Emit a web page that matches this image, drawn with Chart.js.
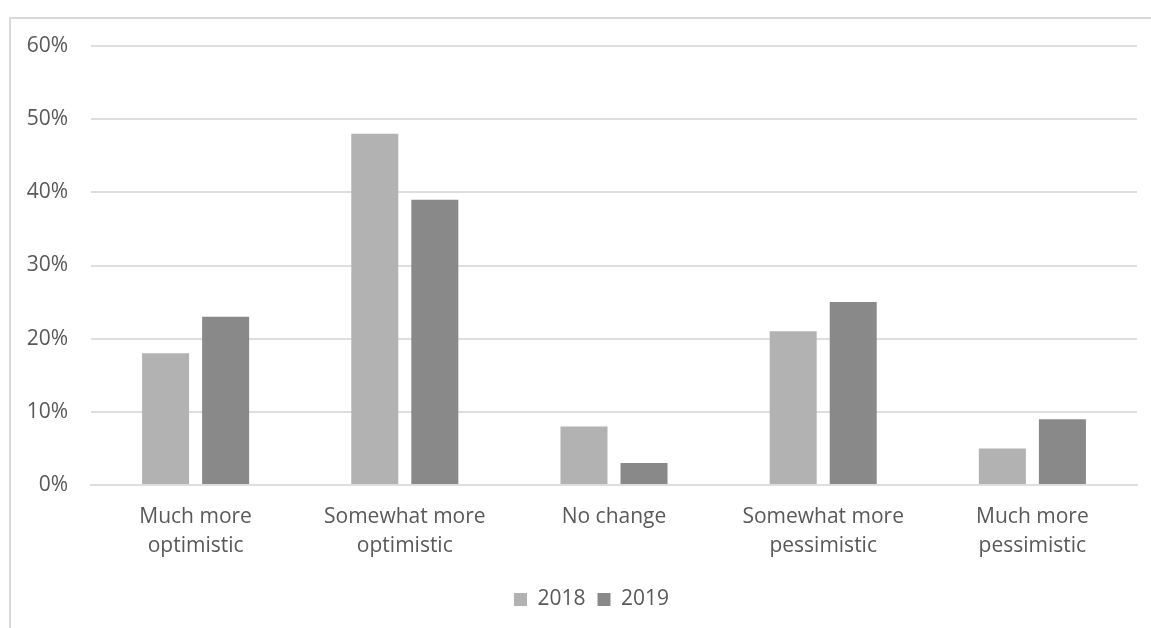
<!DOCTYPE html>
<html>
<head>
<meta charset="utf-8">
<title>Outlook change 2018 vs 2019</title>
<script src="https://cdn.jsdelivr.net/npm/chart.js@4/dist/chart.umd.min.js"></script>
<style>
  html, body { margin: 0; padding: 0; background: #fff; overflow: hidden; }
  #wrap { position: relative; width: 1151px; height: 628px; }
  #frame {
    position: absolute; left: 9px; top: 17px; width: 1200px; height: 700px;
    border: 2px solid #d9d9d9; box-sizing: border-box;
  }
  #chart { position: absolute; left: 0; top: 0; }
</style>
</head>
<body>
<div id="wrap">
  <div id="frame"></div>
  <canvas id="chart" width="1151" height="628"></canvas>
</div>
<script>
// survey answers, percent of respondents
const categories = [
  ['Much more', 'optimistic'],
  ['Somewhat more', 'optimistic'],
  'No change',
  ['Somewhat more', 'pessimistic'],
  ['Much more', 'pessimistic']
];
const values2018 = [18, 48, 8, 21, 5];
const values2019 = [23, 39, 3, 25, 9];
const yTicks = [0, 10, 20, 30, 40, 50, 60];

const textColor = '#595959';
const gridColor = '#dedede';
const font = { family: "'Open Sans', sans-serif", size: 21 };

// the legend sits centred on the outer frame, not the plot
const legendShift = {
  id: 'legendShift',
  afterLayout(chart) {
    const lg = chart.legend;
    if (lg) { lg.left += 23; lg.right += 23; }
  }
};

new Chart(document.getElementById('chart'), {
  type: 'bar',
  data: {
    labels: categories,
    datasets: [{
      label: '2018',
      data: values2018,
      backgroundColor: '#b2b2b2',
      categoryPercentage: 0.574,
      barPercentage: 0.783
    }, {
      label: '2019',
      data: values2019,
      backgroundColor: '#898989',
      categoryPercentage: 0.574,
      barPercentage: 0.783
    }]
  },
  plugins: [legendShift],
  options: {
    responsive: false,
    animation: false,
    layout: { padding: { top: 46, right: 14, bottom: 8, left: 0 } },
    plugins: {
      tooltip: { enabled: false },
      legend: {
        position: 'bottom',
        labels: {
          color: textColor,
          font: font,
          boxWidth: 13,
          boxHeight: 13,
          padding: 12
        }
      }
    },
    scales: {
      x: {
        grid: { display: false, drawTicks: false },
        border: { color: gridColor, width: 2 },
        ticks: { color: textColor, font: { ...font, lineHeight: 1.38 }, padding: 18, maxRotation: 0 },
        afterFit: s => { s.height = 92; }
      },
      y: {
        min: yTicks[0],
        max: yTicks[yTicks.length - 1],
        afterBuildTicks: s => { s.ticks = yTicks.map(v => ({ value: v })); },
        grid: { color: gridColor, lineWidth: 2, drawTicks: false },
        border: { display: false },
        ticks: { color: textColor, font: font, padding: 23, callback: v => v + '%' },
        afterFit: s => { s.width = 91; }
      }
    }
  }
});
</script>
</body>
</html>
